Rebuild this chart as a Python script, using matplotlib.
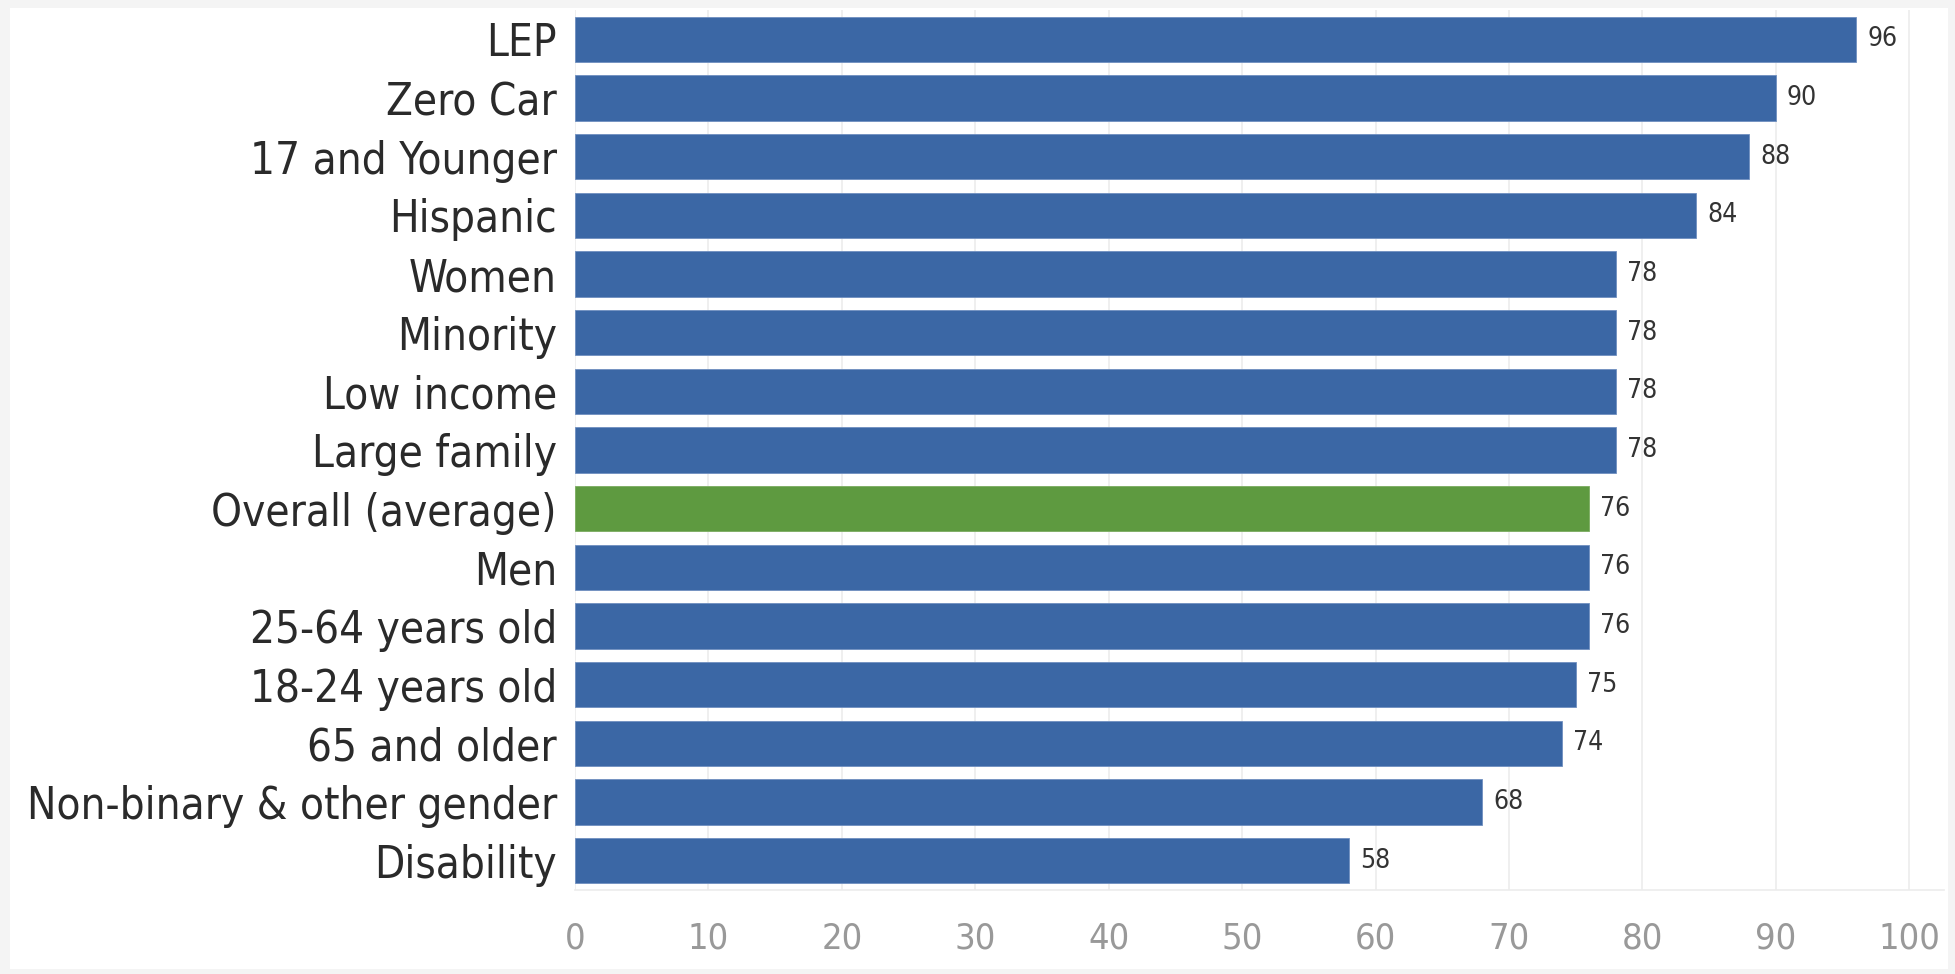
import matplotlib
matplotlib.use("Agg")
import matplotlib.pyplot as plt
from matplotlib import font_manager as fm

categories = ["LEP", "Zero Car", "17 and Younger", "Hispanic", "Women", "Minority",
              "Low income", "Large family", "Overall (average)", "Men", "25-64 years old",
              "18-24 years old", "65 and older", "Non-binary & other gender", "Disability"]
values = [96, 90, 88, 84, 78, 78, 78, 78, 76, 76, 76, 75, 74, 68, 58]
highlight = "Overall (average)"
xticks = [0, 10, 20, 30, 40, 50, 60, 70, 80, 90, 100]

BLUE = "#3b67a5"
GREEN = "#5e9a40"


def pick_font():
    entries = fm.fontManager.ttflist
    prefs = ["Liberation Sans Narrow", "DejaVu Sans", "Noto Sans", "Open Sans", "Roboto"]
    for p in prefs:
        for e in entries:
            if (e.name == p or e.name.startswith(p)) and e.style == "normal" and \
               e.weight in (400, "normal", "regular") and \
               (("Narrow" in e.name) or ("ondensed" in str(e.stretch)) or ("Condensed" in e.name)):
                return fm.FontProperties(fname=e.fname)
    return fm.FontProperties(family="Open Sans")


fp = pick_font()
W, H = 1956, 974
fig = plt.figure(figsize=(W / 100, H / 100), dpi=100, facecolor="#f4f4f4")
bg = fig.add_axes([10 / W, 5 / H, (1948 - 10) / W, (970 - 9) / H], zorder=-10)
bg.set_facecolor("white")
bg.set_xticks([])
bg.set_yticks([])
for s in bg.spines.values():
    s.set_visible(False)

ax = fig.add_axes([575 / W, 1 - 890 / H, (1944 - 575) / W, (890 - 10) / H], zorder=1)
ax.patch.set_alpha(0)

y = list(range(len(categories)))
colors = [GREEN if c == highlight else BLUE for c in categories]
edges = ["#7aab5f" if c == highlight else "#6f8fc0" for c in categories]
ax.barh(y, values, height=0.77, color=colors, edgecolor=edges, linewidth=0.6, zorder=3)

for yi, v in zip(y, values):
    ax.annotate(f"{v}", xy=(v, yi), xytext=(8, 0), textcoords="offset points",
                va="center", ha="left", color="#333333",
                fontproperties=fp.copy())

ax.set_xlim(0, 102.6)
ax.set_ylim(len(categories) - 0.5, -0.5)
ax.set_yticks(y)
ax.set_yticklabels(categories)
ax.set_xticks(xticks)
ax.set_xticklabels([str(t) for t in xticks])

for lab in ax.get_yticklabels():
    lab.set_fontproperties(fp)
    lab.set_fontsize(31.5)
    lab.set_color("#2a2a2a")
for lab in ax.get_xticklabels():
    lab.set_fontproperties(fp)
    lab.set_fontsize(26)
    lab.set_color("#999999")
for t in ax.texts:
    t.set_fontsize(19)

ax.tick_params(axis="y", length=0, pad=13)
ax.tick_params(axis="x", length=0, pad=23)
ax.grid(axis="x", color="#ececec", linewidth=1.2, zorder=0)
ax.set_axisbelow(True)
for s in ["top", "right", "left"]:
    ax.spines[s].set_visible(False)
ax.spines["bottom"].set_color("#ececec")
ax.spines["bottom"].set_linewidth(1.2)

fig.savefig("out.png", dpi=100, facecolor=fig.get_facecolor())
